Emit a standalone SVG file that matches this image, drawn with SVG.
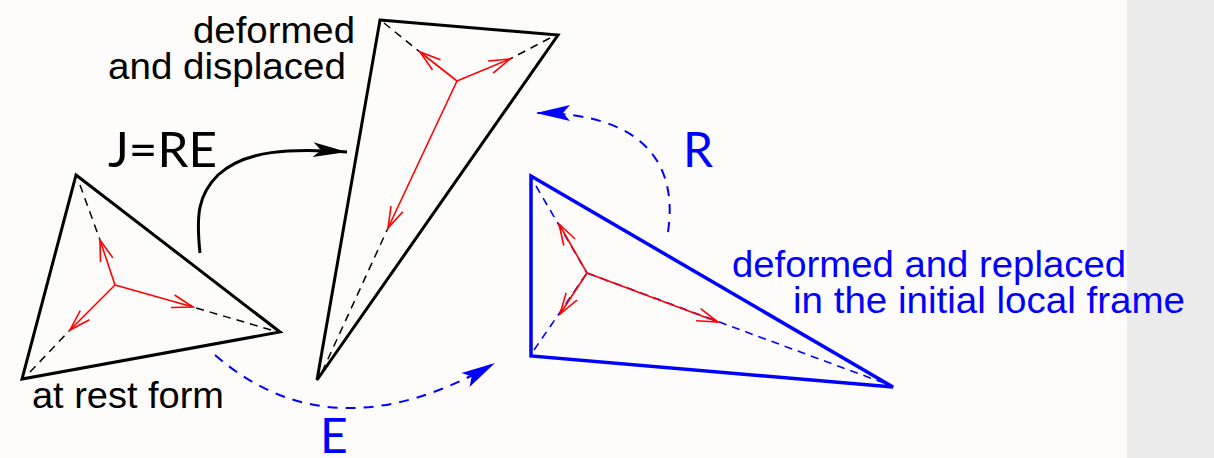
<svg xmlns="http://www.w3.org/2000/svg" width="1214" height="458" viewBox="0 0 1214 458">
  <defs>
    <style>
      .tri-k { fill: none; stroke: #000; stroke-width: 3; stroke-linejoin: miter; }
      .tri-b { fill: none; stroke: #0000ff; stroke-width: 3.5; stroke-linejoin: miter; }
      .dash-k { fill: none; stroke: #000; stroke-width: 1.5; stroke-dasharray: 8 6; }
      .dash-b { fill: none; stroke: #0000ff; stroke-width: 1.6; stroke-dasharray: 8 6; }
      .vec { fill: none; stroke: #ff0000; stroke-width: 1.6; marker-end: url(#open); }
      .conn-k { fill: none; stroke: #000; stroke-width: 3; }
      .conn-b { fill: none; stroke: #0000ff; stroke-width: 2; stroke-dasharray: 10 8; }
      .lbl { font-family: "Liberation Sans", Arial, sans-serif; font-size: 37px; }
      .big { font-family: Lato, "Liberation Sans", sans-serif; font-size: 48px; }
    </style>
    <marker id="open" markerUnits="userSpaceOnUse" orient="auto" markerWidth="30" markerHeight="20" refX="0" refY="0" viewBox="-24 -10 26 20" overflow="visible">
      <path d="M-21,-6.5 L0,0 L-21,6.5" fill="none" stroke="#ff0000" stroke-width="1.6"/>
    </marker>
    <marker id="headK" markerUnits="userSpaceOnUse" orient="auto" markerWidth="40" markerHeight="20" refX="0" refY="0" viewBox="-36 -10 38 20" overflow="visible">
      <path d="M0,0 L-34,-7.5 L-26,0 L-34,7.5 Z" fill="#000"/>
    </marker>
    <marker id="headB" markerUnits="userSpaceOnUse" orient="auto" markerWidth="40" markerHeight="20" refX="0" refY="0" viewBox="-36 -10 38 20" overflow="visible">
      <path d="M0,0 L-34,-8 L-27,0 L-34,8 Z" fill="#0000ff"/>
    </marker>
  </defs>

  <rect x="0" y="0" width="1214" height="458" fill="#fdfcfa"/>
  <rect x="1127" y="0" width="87" height="458" fill="#ebebeb"/>

  <g id="rest-form">
    <line class="dash-k" x1="80" y1="185" x2="100" y2="240"/>
    <line class="dash-k" x1="271" y1="330" x2="193" y2="307"/>
    <line class="dash-k" x1="30" y1="372" x2="70" y2="330"/>
    <polygon class="tri-k" points="76,175 280,332 22,379"/>
    <line class="vec" x1="115" y1="285" x2="100" y2="240"/>
    <line class="vec" x1="115" y1="285" x2="193" y2="307"/>
    <line class="vec" x1="115" y1="285" x2="70" y2="330"/>
    <text class="lbl" x="32" y="408" textLength="192" lengthAdjust="spacingAndGlyphs">at rest form</text>
  </g>

  <g id="deformed-displaced">
    <line class="dash-k" x1="384" y1="23" x2="420" y2="52"/>
    <line class="dash-k" x1="550" y1="38" x2="510" y2="59"/>
    <line class="dash-k" x1="322" y1="372" x2="388" y2="228"/>
    <polygon class="tri-k" points="380,20 558,35 317,380"/>
    <line class="vec" x1="457" y1="81" x2="420" y2="52"/>
    <line class="vec" x1="457" y1="81" x2="510" y2="59"/>
    <line class="vec" x1="457" y1="81" x2="388" y2="228"/>
    <text class="lbl" x="193" y="43" textLength="162" lengthAdjust="spacingAndGlyphs">deformed</text>
    <text class="lbl" x="108" y="79" textLength="238" lengthAdjust="spacingAndGlyphs">and displaced</text>
  </g>

  <g id="deformed-replaced">
    <line class="dash-b" x1="536" y1="186" x2="587" y2="273"/>
    <line class="dash-b" x1="534" y1="350" x2="587" y2="273"/>
    <line class="dash-b" x1="884" y1="383" x2="587" y2="273"/>
    <polygon class="tri-b" points="531,176 531,356 893,387"/>
    <line class="vec" x1="587" y1="273" x2="559" y2="224"/>
    <line class="vec" x1="587" y1="273" x2="560" y2="314"/>
    <line class="vec" x1="587" y1="273" x2="718" y2="322"/>
    <text class="lbl" x="732" y="277" fill="#0000ff" textLength="394" lengthAdjust="spacingAndGlyphs">deformed and replaced</text>
    <text class="lbl" x="793" y="313" fill="#0000ff" textLength="392" lengthAdjust="spacingAndGlyphs">in the initial local frame</text>
  </g>

  <g id="connectors">
    <path class="conn-k" d="M200,253 C196,215 198,195 218,175 C245,150 290,148 347,152" marker-end="url(#headK)"/>
    <text class="big" x="108" y="167" textLength="109" lengthAdjust="spacingAndGlyphs">J=RE</text>
    <path class="conn-b" d="M215,355 Q332,457 495,363" marker-end="url(#headB)"/>
    <text class="big" x="320" y="453" fill="#0000ff">E</text>
    <path class="conn-b" d="M668,232 C678,165 645,113 536,113" marker-end="url(#headB)"/>
    <text class="big" x="683" y="167" fill="#0000ff">R</text>
  </g>
</svg>
